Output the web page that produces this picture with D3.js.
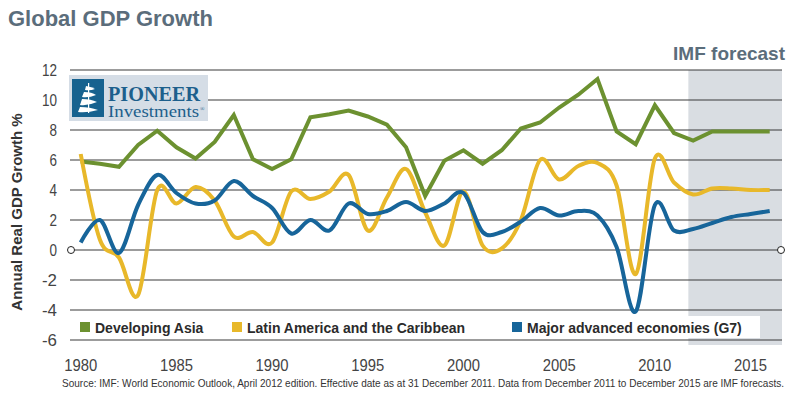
<!DOCTYPE html>
<html>
<head>
<meta charset="utf-8">
<script src="https://cdn.jsdelivr.net/npm/d3@7"></script>
<style>
  body { margin: 0; background: #fff; }
  svg { display: block; }
  .narrow { font-family: "Liberation Sans Narrow", "Arial Narrow", "Liberation Sans", sans-serif; }
  .bold { font-family: "Liberation Sans", Arial, sans-serif; font-weight: bold; }
</style>
</head>
<body>
<svg id="chart" width="788" height="393"></svg>
<script>
// chart values
const years     = d3.range(1980, 2017);
const devAsia   = [5.9, 5.75, 5.55, 7.0, 7.95, 6.85, 6.1, 7.2, 9.0, 6.05, 5.4, 6.05, 8.85, 9.05, 9.3, 8.9, 8.35, 6.85, 3.6, 5.95,
                   6.65, 5.75, 6.65, 8.1, 8.5, 9.5, 10.35, 11.4, 7.9, 7.05, 9.65, 7.8, 7.3, 7.9, 7.9, 7.9, 7.9];
const latAm     = [6.4, 0.7, -0.5, -3.0, 4.0, 3.1, 4.2, 3.3, 0.9, 1.2, 0.5, 3.9, 3.4, 3.9, 5.0, 1.3, 3.5, 5.4, 2.5, 0.3,
                   3.9, 0.3, 0.1, 2.0, 6.0, 4.7, 5.6, 5.8, 4.3, -1.6, 6.1, 4.5, 3.7, 4.1, 4.1, 4.0, 4.0];
const g7        = [0.5, 2.0, -0.2, 3.0, 5.0, 3.8, 3.1, 3.3, 4.6, 3.6, 2.8, 1.1, 2.0, 1.3, 3.1, 2.4, 2.6, 3.2, 2.6, 3.1,
                   3.8, 1.2, 1.2, 1.9, 2.8, 2.3, 2.6, 2.3, 0.2, -4.1, 3.0, 1.3, 1.4, 1.8, 2.2, 2.4, 2.6];
const seriesNames = ["Developing Asia", "Latin America and the Caribbean", "Major advanced economies (G7)"];
const yTicks    = [12, 10, 8, 6, 4, 2, 0, -2, -4, -6];
const xTicks    = [1980, 1985, 1990, 1995, 2000, 2005, 2010, 2015];
const forecastStart = 2011.75;

const colors = ["#6c9130", "#e8b82a", "#17659a"];

const svg = d3.select("#chart");
const x = d3.scaleLinear().domain([1980, 2016]).range([80.7, 769.7]);
const y = d3.scaleLinear().domain([-6, 12]).range([340, 70]);
const gridLeft = 70, gridRight = 782;

svg.append("rect").attr("width", 788).attr("height", 393).attr("fill", "#fff");

// forecast shading
svg.append("rect")
    .attr("x", x(forecastStart)).attr("y", y(12))
    .attr("width", gridRight - x(forecastStart))
    .attr("height", y(-6) + 5 - y(12))
    .attr("fill", "#d9dde2");

// gridlines
svg.append("g").selectAll("line")
  .data(yTicks)
  .enter().append("line")
    .attr("x1", gridLeft).attr("x2", gridRight)
    .attr("y1", d => y(d)).attr("y2", d => y(d))
    .attr("stroke", "#3a3a3a").attr("stroke-width", 1.2);

// circles at the zero line ends
svg.append("g").selectAll("circle")
  .data([gridLeft + 1, gridRight - 1])
  .enter().append("circle")
    .attr("cx", d => d).attr("cy", y(0)).attr("r", 3.5)
    .attr("fill", "#fff").attr("stroke", "#222").attr("stroke-width", 1);

// y tick labels (narrow look squeezed with textLength)
svg.append("g").selectAll("text")
  .data(yTicks)
  .enter().append("text")
    .attr("class", "narrow")
    .attr("x", 57).attr("y", d => y(d) + 6)
    .attr("text-anchor", "end")
    .attr("font-size", 17).attr("fill", "#444")
    .attr("textLength", d => String(d).length * 7.5)
    .attr("lengthAdjust", "spacingAndGlyphs")
    .text(d => d);

// x tick labels
svg.append("g").selectAll("text")
  .data(xTicks)
  .enter().append("text")
    .attr("class", "narrow")
    .attr("x", d => x(d)).attr("y", 371)
    .attr("text-anchor", "middle")
    .attr("font-size", 17).attr("fill", "#444")
    .attr("textLength", 33)
    .attr("lengthAdjust", "spacingAndGlyphs")
    .text(d => d);

// y axis title
svg.append("text")
    .attr("class", "bold")
    .attr("transform", "translate(22,212) rotate(-90)")
    .attr("text-anchor", "middle")
    .attr("font-size", 15).attr("fill", "#333")
    .text("Annual Real GDP Growth %");

// lines
const straight = d3.line().x((d, i) => x(years[i])).y(d => y(d));
const smooth   = d3.line().x((d, i) => x(years[i])).y(d => y(d)).curve(d3.curveCatmullRom.alpha(0));

svg.append("path").datum(devAsia)
    .attr("d", straight).attr("fill", "none")
    .attr("stroke", colors[0]).attr("stroke-width", 4).attr("stroke-linejoin", "miter");
svg.append("path").datum(latAm)
    .attr("d", smooth).attr("fill", "none")
    .attr("stroke", colors[1]).attr("stroke-width", 4);
svg.append("path").datum(g7)
    .attr("d", smooth).attr("fill", "none")
    .attr("stroke", colors[2]).attr("stroke-width", 4);

// legend
svg.append("rect").attr("x", 72).attr("y", 316).attr("width", 688).attr("height", 22).attr("fill", "#fff");
const legX = [80, 232, 512];
const leg = svg.append("g").selectAll("g")
  .data(seriesNames)
  .enter().append("g")
    .attr("transform", (d, i) => `translate(${legX[i]},322)`);
leg.append("rect").attr("width", 10).attr("height", 10).attr("fill", (d, i) => colors[i]);
leg.append("text")
    .attr("class", "bold")
    .attr("x", 15).attr("y", 10.5)
    .attr("font-size", 14).attr("fill", "#2b2b2b")
    .text(d => d);

// title texts
svg.append("text").attr("class", "bold")
    .attr("x", 8).attr("y", 26)
    .attr("font-size", 22).attr("fill", "#5b6d7b")
    .text("Global GDP Growth");
svg.append("text").attr("class", "bold")
    .attr("x", 785).attr("y", 60).attr("text-anchor", "end")
    .attr("font-size", 19).attr("fill", "#5b6d7b")
    .text("IMF forecast");

// source
svg.append("text").attr("class", "narrow")
    .attr("x", 62).attr("y", 387)
    .attr("font-size", 10.5).attr("fill", "#333")
    .attr("textLength", 722)
    .attr("lengthAdjust", "spacingAndGlyphs")
    .text("Source: IMF: World Economic Outlook, April 2012 edition. Effective date as at 31 December 2011. Data from December 2011 to December 2015 are IMF forecasts.");

// logo
const logo = svg.append("g").attr("transform", "translate(69,75)");
logo.append("rect").attr("width", 139).attr("height", 46).attr("fill", "#d5dde6");
logo.append("rect").attr("x", 3).attr("y", 4).attr("width", 32).attr("height", 38).attr("fill", "#17628f");
const ship = logo.append("g").attr("fill", "#fff").attr("transform", "translate(3,4)");
ship.append("path").attr("d", "M14 7 Q20 8 23 10 Q18 12 13 11 Z");
ship.append("path").attr("d", "M12 13 Q20 13 24 16 Q17 19 10 18 Z");
ship.append("path").attr("d", "M10 20 Q19 20 25 23 Q16 27 8 26 Z");
ship.append("path").attr("d", "M8 28 Q18 28 26 31 Q15 34 6 33 Z");
ship.append("rect").attr("x", 16).attr("y", 4).attr("width", 1.2).attr("height", 30);
logo.append("text")
    .attr("x", 39).attr("y", 26)
    .attr("font-family", "'Liberation Serif', 'DejaVu Serif', serif")
    .attr("font-size", 21).attr("font-weight", "bold").attr("fill", "#1d5f8c")
    .attr("textLength", 92).attr("lengthAdjust", "spacingAndGlyphs")
    .text("PIONEER");
logo.append("text")
    .attr("x", 39).attr("y", 42)
    .attr("font-family", "'Liberation Serif', 'DejaVu Serif', serif")
    .attr("font-size", 17).attr("fill", "#1d5f8c")
    .attr("textLength", 91).attr("lengthAdjust", "spacingAndGlyphs")
    .text("Investments");
logo.append("text")
    .attr("x", 131).attr("y", 36)
    .attr("font-family", "'Liberation Serif', 'DejaVu Serif', serif")
    .attr("font-size", 6).attr("fill", "#1d5f8c")
    .text("®");
</script>
</body>
</html>
